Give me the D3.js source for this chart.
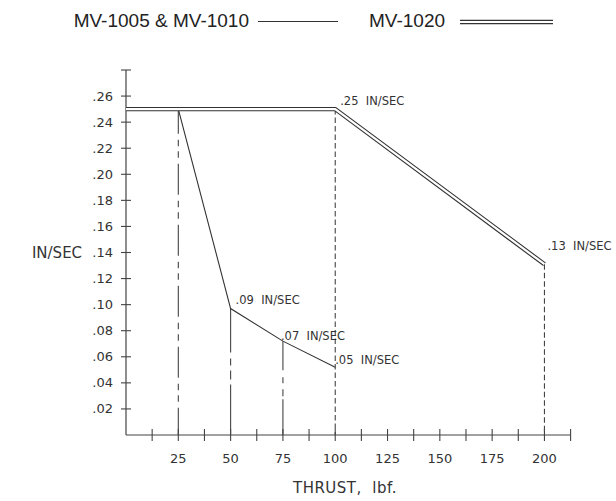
<!DOCTYPE html>
<html>
<head>
<meta charset="utf-8">
<script src="https://cdn.jsdelivr.net/npm/d3@7"></script>
<style>
  body { margin: 0; background: #fff; }
  svg { display: block; }
</style>
</head>
<body>
<div id="chart"></div>
<script>
// MV-1005 & MV-1010 (single line)
const thrust1005 = [25, 50, 75, 100];
const speed1005 = [0.25, 0.097, 0.072, 0.052];

// MV-1020 (double line)
const thrust1020 = [0, 100, 200];
const speed1020 = [0.25, 0.25, 0.131];

// call-outs
const calloutThrust = [100, 50, 75, 100, 200];
const calloutSpeed = [0.25, 0.097, 0.072, 0.052, 0.131];
const calloutText = [".25  IN/SEC", ".09  IN/SEC", ".07  IN/SEC", ".05  IN/SEC", ".13  IN/SEC"];

// drop lines to the axis
const dropThrust = [25, 50, 75, 100, 200];
const dropSpeed = [0.25, 0.097, 0.072, 0.25, 0.131];

const xTickValues = [12.5, 25, 37.5, 50, 62.5, 75, 87.5, 100, 112.5, 125, 137.5, 150, 162.5, 175, 187.5, 200, 212.5];
const xTickLabels = [25, 50, 75, 100, 125, 150, 175, 200];
const yTickValues = [0.02, 0.04, 0.06, 0.08, 0.10, 0.12, 0.14, 0.16, 0.18, 0.20, 0.22, 0.24, 0.26, 0.28];
const yTickLabels = [".02", ".04", ".06", ".08", ".10", ".12", ".14", ".16", ".18", ".20", ".22", ".24", ".26"];

const legendNames = ["MV-1005 & MV-1010", "MV-1020"];

const W = 616, H = 501;
const ink = "#333";
const cad = "'DejaVu Sans', sans-serif";

const svg = d3.select("#chart")
  .append("svg")
    .attr("width", W)
    .attr("height", H);

const x = d3.scaleLinear().domain([0, 212.5]).range([126, 570.6]);
const y = d3.scaleLinear().domain([0, 0.28]).range([435, 70]);

// ---- axes ----
svg.append("line")
  .attr("x1", x(0)).attr("x2", x(212.5))
  .attr("y1", y(0)).attr("y2", y(0))
  .style("stroke", "#444").style("stroke-width", 1.2);
svg.append("line")
  .attr("x1", x(0)).attr("x2", x(0))
  .attr("y1", y(0)).attr("y2", y(0.28))
  .style("stroke", "#444").style("stroke-width", 1.2);

svg.append("g")
  .selectAll("line")
  .data(xTickValues)
  .enter()
  .append("line")
    .attr("x1", d => x(d)).attr("x2", d => x(d))
    .attr("y1", y(0) - 6).attr("y2", y(0) + 6)
    .style("stroke", "#444").style("stroke-width", 1.1);

svg.append("g")
  .selectAll("line")
  .data(yTickValues)
  .enter()
  .append("line")
    .attr("x1", x(0) - 5).attr("x2", x(0) + 5)
    .attr("y1", d => y(d)).attr("y2", d => y(d))
    .style("stroke", "#444").style("stroke-width", 1.1);

svg.append("g")
  .selectAll("text")
  .data(xTickLabels)
  .enter()
  .append("text")
    .attr("x", d => x(d))
    .attr("y", 463)
    .attr("text-anchor", "middle")
    .style("font-family", cad)
    .style("font-size", "13px")
    .style("fill", ink)
    .text(d => d);

svg.append("g")
  .selectAll("text")
  .data(yTickLabels)
  .enter()
  .append("text")
    .attr("x", 113)
    .attr("y", (d, i) => y(yTickValues[i]) + 4.5)
    .attr("text-anchor", "end")
    .style("font-family", cad)
    .style("font-size", "13px")
    .style("fill", ink)
    .text(d => d);

svg.append("text")
  .attr("x", 345).attr("y", 493)
  .attr("text-anchor", "middle")
  .style("font-family", cad)
  .style("font-size", "15px")
  .style("letter-spacing", "0.5px")
  .style("white-space", "pre")
  .style("fill", ink)
  .text("THRUST,  lbf.");

svg.append("text")
  .attr("x", 57).attr("y", 258)
  .attr("text-anchor", "middle")
  .style("font-family", cad)
  .style("font-size", "15px")
  .style("fill", ink)
  .text("IN/SEC");

// ---- drop lines ----
const dropStyle = {
  25: "31,6,6.5,5,6.5,6",
  50: "44,6,7,5,9,5,200",
  75: "29,7,6,6,7,3,200",
  100: "5.5,3",
  200: "5.5,3"
};
const dropOffset = { 25: 6.3, 50: 0, 75: 0, 100: 0, 200: 0 };

svg.append("g")
  .selectAll("line")
  .data(dropThrust)
  .enter()
  .append("line")
    .attr("x1", d => x(d)).attr("x2", d => x(d))
    .attr("y1", (d, i) => y(dropSpeed[i])).attr("y2", y(0))
    .style("stroke", "#444")
    .style("stroke-width", 1.1)
    .style("stroke-dasharray", d => dropStyle[d])
    .style("stroke-dashoffset", d => dropOffset[d]);

// ---- MV-1005 / MV-1010 single line ----
const line = d3.line().x(d => x(d[0])).y(d => y(d[1]));
svg.append("path")
  .datum(thrust1005.map((t, i) => [t, speed1005[i]]))
  .attr("d", line)
  .style("fill", "none")
  .style("stroke", ink)
  .style("stroke-width", 1.1);

// ---- MV-1020 double line ----
const pts1020 = thrust1020.map((t, i) => [t, speed1020[i]]);
svg.append("path")
  .datum(pts1020)
  .attr("d", line)
  .style("fill", "none")
  .style("stroke", ink)
  .style("stroke-width", 4.4)
  .style("stroke-linejoin", "miter");
svg.append("path")
  .datum(pts1020)
  .attr("d", line)
  .style("fill", "none")
  .style("stroke", "#fff")
  .style("stroke-width", 2.2)
  .style("stroke-linejoin", "miter");

// ---- call-outs ----
const calloutDx = [5, 5, -2, 0, 3];
const calloutDy = [-4, -5, -1, -3, -14];
svg.append("g")
  .selectAll("text")
  .data(calloutText)
  .enter()
  .append("text")
    .attr("x", (d, i) => x(calloutThrust[i]) + calloutDx[i])
    .attr("y", (d, i) => y(calloutSpeed[i]) + calloutDy[i])
    .style("font-family", cad)
    .style("font-size", "11.5px")
    .style("white-space", "pre")
    .style("fill", ink)
    .text(d => d);

// ---- legend ----
const lg = svg.append("g");
lg.append("text")
  .attr("x", 249).attr("y", 27)
  .attr("text-anchor", "end")
  .style("font-family", "'Liberation Sans', Arial, sans-serif")
  .style("font-size", "19px")
  .style("fill", "#222")
  .text(legendNames[0]);
lg.append("line")
  .attr("x1", 258).attr("x2", 338)
  .attr("y1", 21.5).attr("y2", 21.5)
  .style("stroke", ink).style("stroke-width", 1.1);
lg.append("text")
  .attr("x", 369).attr("y", 27)
  .style("font-family", "'Liberation Sans', Arial, sans-serif")
  .style("font-size", "19px")
  .style("fill", "#222")
  .text(legendNames[1]);
lg.append("line")
  .attr("x1", 460).attr("x2", 553)
  .attr("y1", 22).attr("y2", 22)
  .style("stroke", ink).style("stroke-width", 4.4);
lg.append("line")
  .attr("x1", 459).attr("x2", 554)
  .attr("y1", 22).attr("y2", 22)
  .style("stroke", "#fff").style("stroke-width", 2.2);
</script>
</body>
</html>
